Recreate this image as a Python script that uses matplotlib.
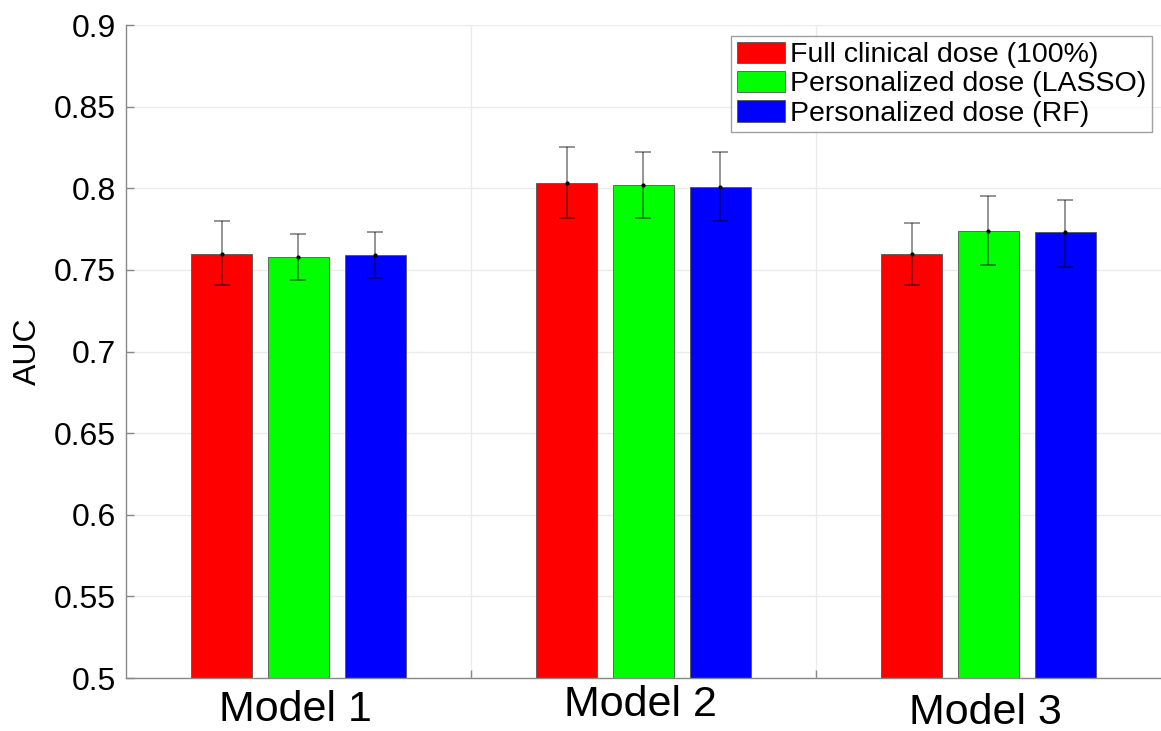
import numpy as np
import matplotlib.pyplot as plt

plt.rcParams['font.family'] = ['Liberation Sans', 'DejaVu Sans']

models = ["Model 1", "Model 2", "Model 3"]
series = ["Full clinical dose (100%)", "Personalized dose (LASSO)", "Personalized dose (RF)"]
colors = ["#ff0000", "#00ff00", "#0000ff"]

# AUC per series (rows) per model (columns)
auc = [[0.760, 0.803, 0.760],
       [0.758, 0.802, 0.774],
       [0.759, 0.801, 0.773]]
err_low = [[0.741, 0.782, 0.741],
           [0.744, 0.782, 0.753],
           [0.745, 0.780, 0.752]]
err_high = [[0.780, 0.825, 0.779],
            [0.772, 0.822, 0.795],
            [0.773, 0.822, 0.793]]

fig = plt.figure(figsize=(11.61, 7.31), dpi=100)
ax = fig.add_axes([0.1085, 0.0725, 0.8915, 0.8933])

x = np.arange(1, len(models) + 1)
width = 0.177
step = 0.2225
for i in range(3):
    xi = x + (i - 1) * step
    vals = np.array(auc[i])
    lo = vals - np.array(err_low[i])
    hi = np.array(err_high[i]) - vals
    ax.bar(xi, vals - 0.5, width, bottom=0.5, color=colors[i], edgecolor="#555555",
           linewidth=0.6, label=series[i], zorder=2)
    ax.errorbar(xi, vals, yerr=[lo, hi], fmt='none', ecolor='k', alpha=0.45,
                elinewidth=1.3, capsize=6, capthick=1.3, zorder=3)
    ax.plot(xi, vals, 'k.', markersize=4, zorder=4)

ax.set_xlim(0.5, 3.5)
ax.set_ylim(0.5, 0.9)
ax.set_yticks(np.arange(0.5, 0.901, 0.05))
ax.set_yticklabels(["0.5", "0.55", "0.6", "0.65", "0.7", "0.75", "0.8", "0.85", "0.9"])
ax.set_xticks([1.5, 2.5])
ax.set_xticklabels([])
ax.tick_params(axis='both', direction='in', color='#888888', length=6, width=1)
ax.tick_params(axis='y', labelsize=23, pad=7)
ax.grid(True, color='#ebebeb', linewidth=1, zorder=0)
ax.set_axisbelow(True)
for s in ['top', 'right']:
    ax.spines[s].set_visible(False)
for s in ['left', 'bottom']:
    ax.spines[s].set_color('#888888')
    ax.spines[s].set_linewidth(1)

ax.set_ylabel("AUC", fontsize=23, labelpad=8)

# category labels placed slightly differently, as in the original
label_y = [-0.0196, -0.0165, -0.0214]
for xc, name, yoff in zip(x, models, label_y):
    ax.text(xc - 0.01, 0.5 + yoff, name, ha='center', va='center', fontsize=31)

leg = ax.legend(loc='upper right', bbox_to_anchor=(0.9965, 0.992), fontsize=20.5,
                frameon=True, fancybox=False, handlelength=1.7, handleheight=0.8,
                handletextpad=0.15, labelspacing=0.08, borderpad=0.2,
                borderaxespad=0.2)
leg.get_frame().set_edgecolor('#888888')
leg.get_frame().set_linewidth(1)

plt.savefig("out.png", dpi=100)
